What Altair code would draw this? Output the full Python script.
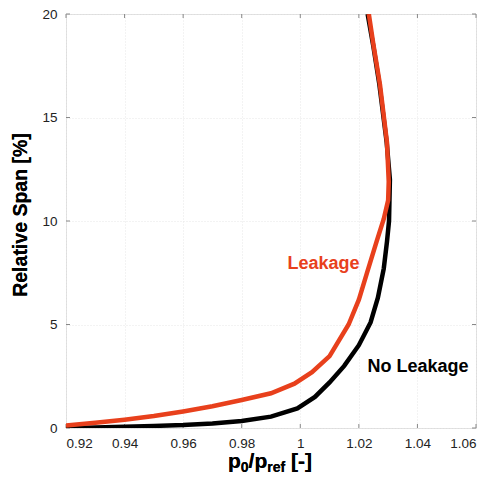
import altair as alt
import pandas as pd

# ---- data ----
nl_x = [0.920, 0.930, 0.940, 0.950, 0.960, 0.970, 0.980, 0.990, 0.999, 1.005,
        1.010, 1.015, 1.020, 1.024, 1.0265, 1.0285, 1.0296, 1.0303, 1.0306,
        1.0295, 1.0270, 1.0250, 1.0230]
nl_y = [0.0, 0.03, 0.06, 0.10, 0.14, 0.22, 0.34, 0.55, 0.95, 1.5,
        2.2, 3.0, 4.0, 5.1, 6.3, 7.7, 9.0, 10.0, 12.0,
        13.8, 16.6, 18.4, 20.0]

lk_x = [0.920, 0.930, 0.940, 0.950, 0.960, 0.970, 0.980, 0.990, 0.998, 1.004,
        1.010, 1.0165, 1.020, 1.0227, 1.0261, 1.0285, 1.0300, 1.0302, 1.0296,
        1.0272, 1.0250, 1.0234]
lk_y = [0.12, 0.25, 0.40, 0.58, 0.80, 1.05, 1.35, 1.68, 2.14, 2.70,
        3.47, 5.0, 6.2, 7.46, 9.03, 10.1, 11.0, 11.9, 13.8,
        16.6, 18.5, 20.0]

x_ticks = [0.92, 0.94, 0.96, 0.98, 1.0, 1.02, 1.04, 1.06]
y_ticks = [0, 5, 10, 15, 20]

labels = ["Leakage", "No Leakage"]
label_x = [1.0079, 1.0402]
label_y = [7.70, 2.71]
label_col = ["#E8401C", "#000000"]

# ---- layout ----
W, H = 410, 414
XMIN, XMAX = 0.92, 1.06
YMIN, YMAX = 0, 20
TICK_PX = 4
FONT = "Liberation Sans"
RED = "#E8401C"

xs = alt.Scale(domain=[XMIN, XMAX], nice=False, zero=False)
ys = alt.Scale(domain=[YMIN, YMAX], nice=False, zero=False)

x_axis = alt.Axis(values=x_ticks, format="~g", title=None, grid=True,
                  gridColor="#e6e6e6", gridDash=[1, 2], ticks=False, domain=False,
                  labelFont=FONT, labelFontSize=13.5, labelColor="#222222",
                  labelPadding=8)
y_axis = alt.Axis(values=y_ticks, format="d", title=None, grid=True,
                  gridColor="#e6e6e6", gridDash=[1, 2], ticks=False, domain=False,
                  labelFont=FONT, labelFontSize=13.5, labelColor="#222222",
                  labelPadding=9)

nl = pd.DataFrame({"x": nl_x, "y": nl_y, "i": range(len(nl_x))})
lk = pd.DataFrame({"x": lk_x, "y": lk_y, "i": range(len(lk_x))})

line_nl = alt.Chart(nl).mark_line(color="#000000", strokeWidth=4.5, clip=True).encode(
    x=alt.X("x:Q", scale=xs, axis=x_axis),
    y=alt.Y("y:Q", scale=ys, axis=y_axis),
    order="i:Q",
)
line_lk = alt.Chart(lk).mark_line(color=RED, strokeWidth=4.5, clip=True).encode(
    x=alt.X("x:Q", scale=xs),
    y=alt.Y("y:Q", scale=ys),
    order="i:Q",
)

# inward ticks on all four sides
dy = TICK_PX * (YMAX - YMIN) / H
dx = TICK_PX * (XMAX - XMIN) / W
tb = pd.DataFrame({"x": x_ticks * 2,
                   "y": [YMIN] * len(x_ticks) + [YMAX] * len(x_ticks),
                   "y2": [YMIN + dy] * len(x_ticks) + [YMAX - dy] * len(x_ticks)})
lr = pd.DataFrame({"y": y_ticks * 2,
                   "x": [XMIN] * len(y_ticks) + [XMAX] * len(y_ticks),
                   "x2": [XMIN + dx] * len(y_ticks) + [XMAX - dx] * len(y_ticks)})
ticks_tb = alt.Chart(tb).mark_rule(color="#888888", strokeWidth=1).encode(
    x=alt.X("x:Q", scale=xs), y=alt.Y("y:Q", scale=ys), y2="y2:Q")
ticks_lr = alt.Chart(lr).mark_rule(color="#888888", strokeWidth=1).encode(
    x=alt.X("x:Q", scale=xs), x2="x2:Q", y=alt.Y("y:Q", scale=ys))

lab = pd.DataFrame({"t": labels, "x": label_x, "y": label_y, "c": label_col})
text_lab = alt.Chart(lab).mark_text(font=FONT, fontSize=18, fontWeight="bold",
                                    align="center", baseline="alphabetic").encode(
    x=alt.X("x:Q", scale=xs), y=alt.Y("y:Q", scale=ys), text="t:N",
    color=alt.Color("c:N", scale=None))

# axis titles (x title has subscripts, built from pieces)
pieces = [("p", 162, 454, 21), ("0", 174.8, 458, 14), ("/p", 182.6, 454, 21),
          ("ref", 201.3, 458, 14), ("[-]", 225.0, 454, 21)]
title_layers = []
for t, px, py, fs in pieces:
    title_layers.append(
        alt.Chart(lab).mark_text(font=FONT, fontSize=fs, fontWeight="bold",
                                 align="left", baseline="alphabetic", color="#000000").encode(
            x=alt.value(px), y=alt.value(py), text=alt.value(t)))
ytitle = alt.Chart(lab).mark_text(font=FONT, fontSize=19.5, fontWeight="bold",
                                  align="center", baseline="alphabetic", angle=270,
                                  color="#000000").encode(
    x=alt.value(-39), y=alt.value(201), text=alt.value("Relative Span [%]"))

chart = alt.layer(ticks_tb, ticks_lr, line_nl, line_lk, text_lab, ytitle, *title_layers).properties(
    width=W, height=H,
    autosize=alt.AutoSizeParams(type="none"),
    padding={"left": 58, "top": 6, "right": 13, "bottom": 47},
).configure_view(stroke="#000000", strokeWidth=1.2).configure(background="white")

chart.save("out.html", embed_options={"renderer": "svg", "actions": False})
